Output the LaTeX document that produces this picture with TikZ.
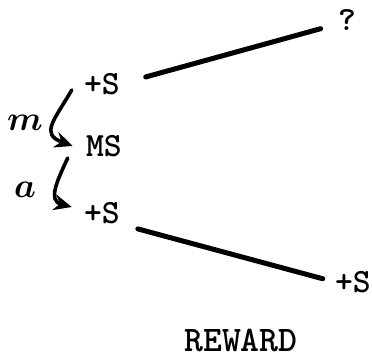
\documentclass[tikz,border=0pt]{standalone}
\usepackage{amsmath,amssymb}
\usepackage{tikz}
\usetikzlibrary{arrows.meta,positioning}

\begin{document}
\begin{tikzpicture}[
    x=0.5pt, y=0.5pt,
    state/.style={inner sep=0pt, font=\ttfamily\bfseries\fontsize{17}{19}\selectfont},
    label/.style={inner sep=0pt, font=\fontsize{17}{20}\selectfont\boldmath},
    branch/.style={line width=2.5pt, line cap=round},
    arrow/.style={-{Stealth[length=9pt,width=8pt]}, line width=1.8pt, line cap=round}
]
\useasboundingbox (0,0) rectangle (372,358);

\node[state] (top) at (102,274) {+S};
\node[state] (ms) at (104,212) {MS};
\node[state] (bot) at (102,145) {+S};
\node[state] (q) at (347,338) {?};
\node[state] (rs) at (353,76) {+S};
\node[state, font=\ttfamily\bfseries\fontsize{18}{20}\selectfont] (reward) at (241,18) {REWARD};

\node[label] (m) at (25,235) {$m$};
\node[label] (a) at (25,168) {$a$};

\draw[branch, shorten <=13.2pt, shorten >=8.8pt] (top.east) -- ([yshift=-2pt]q.west);
\draw[branch, shorten <=9.1pt, shorten >=6.2pt] (bot.south east) -- (rs.west);

\draw[arrow] ([shift={(-6pt,-3pt)}]top.west) to[out=240, in=160, looseness=1.6] ([xshift=-6.5pt]ms.west);
\draw[arrow] ([shift={(-9pt,-6pt)}]ms.west) to[out=245, in=165, looseness=1.3] ([shift={(-6pt,3pt)}]bot.west);

\end{tikzpicture}
\end{document}
